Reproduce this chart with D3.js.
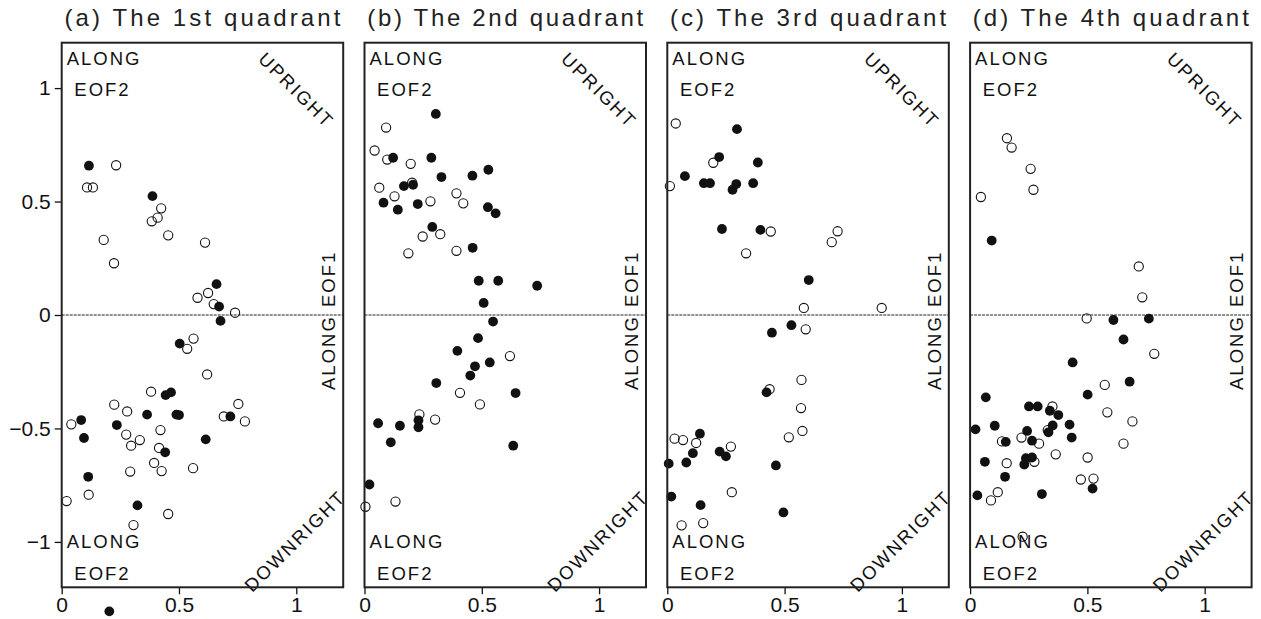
<!DOCTYPE html>
<html>
<head>
<meta charset="utf-8">
<script src="https://cdn.jsdelivr.net/npm/d3@7"></script>
<style>
  body { margin: 0; background: #fff; }
  svg { display: block; }
</style>
</head>
<body>
<svg width="1261" height="619"></svg>
<script>
// panel titles
const titles = ["(a) The 1st quadrant", "(b) The 2nd quadrant", "(c) The 3rd quadrant", "(d) The 4th quadrant"];
const xTicks = [0, 0.5, 1];
const yTicks = [-1, -0.5, 0, 0.5, 1];

// [EOF1, EOF2] pairs
const q1Filled = [
  [0.116, 0.658], [0.387, 0.524], [0.66, 0.136], [0.671, 0.037], [0.677, -0.026],
  [0.503, -0.126], [0.443, -0.353], [0.466, -0.341], [0.364, -0.439], [0.489, -0.439], [0.5, -0.441],
  [0.083, -0.463], [0.719, -0.447], [0.235, -0.485], [0.095, -0.542], [0.614, -0.548], [0.441, -0.605],
  [0.113, -0.713], [0.323, -0.839], [0.203, -1.306]
];
const q1Open = [
  [0.232, 0.66], [0.108, 0.562], [0.133, 0.562], [0.424, 0.47], [0.409, 0.429], [0.384, 0.413], [0.454, 0.351],
  [0.179, 0.331], [0.611, 0.319], [0.223, 0.228], [0.624, 0.097], [0.579, 0.076], [0.648, 0.048], [0.739, 0.01],
  [0.562, -0.104], [0.535, -0.149], [0.62, -0.262], [0.381, -0.338], [0.224, -0.395], [0.279, -0.425],
  [0.753, -0.392], [0.691, -0.447], [0.781, -0.469], [0.041, -0.482], [0.421, -0.507], [0.275, -0.527],
  [0.333, -0.551], [0.296, -0.576], [0.415, -0.586], [0.394, -0.652], [0.426, -0.688], [0.292, -0.69],
  [0.56, -0.675], [0.115, -0.792], [0.021, -0.82], [0.454, -0.877], [0.306, -0.926]
];
const q2Filled = [
  [0.304, 0.886], [0.122, 0.693], [0.285, 0.693], [0.528, 0.64], [0.328, 0.608], [0.46, 0.614], [0.168, 0.568],
  [0.207, 0.574], [0.081, 0.495], [0.227, 0.489], [0.142, 0.464], [0.526, 0.475], [0.559, 0.448], [0.289, 0.388],
  [0.461, 0.296], [0.487, 0.151], [0.57, 0.151], [0.736, 0.129], [0.508, 0.053],
  [0.548, -0.029], [0.484, -0.102], [0.396, -0.158], [0.534, -0.209], [0.471, -0.226], [0.451, -0.267],
  [0.306, -0.3], [0.644, -0.344], [0.058, -0.477], [0.151, -0.488], [0.23, -0.464], [0.23, -0.495],
  [0.112, -0.561], [0.634, -0.576], [0.021, -0.747]
];
const q2Open = [
  [0.092, 0.826], [0.043, 0.725], [0.097, 0.685], [0.197, 0.666], [0.203, 0.583], [0.063, 0.561], [0.128, 0.523],
  [0.281, 0.501], [0.392, 0.536], [0.421, 0.492], [0.248, 0.346], [0.323, 0.356], [0.187, 0.272], [0.392, 0.283],
  [0.62, -0.181], [0.407, -0.343], [0.492, -0.394], [0.234, -0.438], [0.301, -0.461], [0.132, -0.822], [0.004, -0.845]
];
const q3Filled = [
  [0.297, 0.819], [0.221, 0.696], [0.386, 0.672], [0.075, 0.612], [0.156, 0.581], [0.182, 0.581], [0.294, 0.577],
  [0.278, 0.552], [0.366, 0.581], [0.233, 0.379], [0.397, 0.375], [0.603, 0.154],
  [0.529, -0.045], [0.446, -0.078], [0.423, -0.341], [0.139, -0.523], [0.109, -0.609], [0.223, -0.602],
  [0.25, -0.623], [0.006, -0.655], [0.081, -0.65], [0.463, -0.663], [0.017, -0.8], [0.142, -0.838], [0.495, -0.87]
];
const q3Open = [
  [0.036, 0.844], [0.196, 0.671], [0.011, 0.568], [0.441, 0.368], [0.726, 0.369], [0.701, 0.321], [0.336, 0.272],
  [0.582, 0.031], [0.914, 0.031],
  [0.59, -0.063], [0.572, -0.286], [0.436, -0.327], [0.57, -0.41], [0.576, -0.511], [0.518, -0.539],
  [0.031, -0.545], [0.067, -0.551], [0.123, -0.564], [0.271, -0.58], [0.275, -0.781], [0.061, -0.927], [0.153, -0.917]
];
const q4Filled = [
  [0.092, 0.328], [0.611, -0.022], [0.762, -0.016], [0.654, -0.108], [0.437, -0.209], [0.68, -0.294],
  [0.501, -0.351], [0.067, -0.363], [0.251, -0.403], [0.288, -0.403], [0.34, -0.422], [0.376, -0.441],
  [0.023, -0.504], [0.105, -0.488], [0.352, -0.487], [0.424, -0.483], [0.243, -0.511], [0.334, -0.517],
  [0.433, -0.54], [0.152, -0.559], [0.264, -0.554], [0.063, -0.647], [0.238, -0.631], [0.264, -0.628],
  [0.231, -0.659], [0.149, -0.713], [0.522, -0.765], [0.031, -0.795], [0.306, -0.789]
];
const q4Open = [
  [0.157, 0.779], [0.177, 0.738], [0.258, 0.644], [0.27, 0.552], [0.046, 0.52], [0.719, 0.214], [0.734, 0.078],
  [0.497, -0.015], [0.785, -0.171], [0.574, -0.308], [0.585, -0.429], [0.692, -0.469], [0.654, -0.567],
  [0.351, -0.403], [0.331, -0.507], [0.219, -0.54], [0.136, -0.557], [0.294, -0.567], [0.365, -0.614],
  [0.501, -0.628], [0.274, -0.647], [0.156, -0.653], [0.472, -0.725], [0.526, -0.721], [0.118, -0.781],
  [0.089, -0.817], [0.224, -0.977]
];

const filledSets = [q1Filled, q2Filled, q3Filled, q4Filled];
const openSets = [q1Open, q2Open, q3Open, q4Open];

const svg = d3.select("svg"),
  font = "'Liberation Sans', Arial, sans-serif",
  plotTop = 42.7,
  plotBottom = 587.3,
  panelW = 281.5,
  step = 302.8;

const y = d3.scaleLinear().domain([-1.2, 1.2]).range([plotBottom, plotTop]);

titles.forEach((title, i) => {
  const left = 61.7 + i * step;
  const x = d3.scaleLinear().domain([0, 1.2]).range([left, left + panelW]);
  const g = svg.append("g");

  //title
  g.append("text")
    .attr("x", left + panelW / 2)
    .attr("y", 26)
    .attr("text-anchor", "middle")
    .attr("font-family", font)
    .attr("font-size", 24)
    .attr("textLength", 276)
    .attr("lengthAdjust", "spacing")
    .attr("fill", "#222")
    .text(title);

  //x axis
  const xa = g.append("g")
    .attr("transform", `translate(0,${plotBottom})`)
    .call(d3.axisBottom(x).tickValues(xTicks).tickSize(7).tickPadding(3).tickFormat(d3.format("")));
  xa.select(".domain").remove();
  xa.selectAll("line").attr("stroke", "#111").attr("stroke-width", 1.3);
  xa.selectAll("text").attr("font-family", font).attr("font-size", 21).attr("fill", "#111");

  if (i === 0) {
    const ya = g.append("g")
      .attr("transform", `translate(${left},0)`)
      .call(d3.axisLeft(y).tickValues(yTicks).tickSize(7).tickPadding(4).tickFormat(d3.format("")));
    ya.select(".domain").remove();
    ya.selectAll("line").attr("stroke", "#111").attr("stroke-width", 1.3);
    ya.selectAll("text").attr("font-family", font).attr("font-size", 21).attr("fill", "#111");
  }

  //zero line
  g.append("line")
    .attr("x1", left).attr("x2", left + panelW)
    .attr("y1", y(0)).attr("y2", y(0))
    .attr("stroke", "#222")
    .attr("stroke-width", 1)
    .attr("stroke-dasharray", "3,1");

  //labels inside the frame
  const lab = (txt, tx, ty, rot, anchor) =>
    g.append("text")
      .attr("transform", `translate(${tx},${ty}) rotate(${rot})`)
      .attr("text-anchor", anchor || "start")
      .attr("font-family", font)
      .attr("font-size", 18.5)
      .attr("letter-spacing", 2)
      .attr("fill", "#111")
      .text(txt);
  lab("ALONG", left + 5, plotTop + 22.3, 0);
  lab("EOF2", left + 12.6, plotTop + 53, 0);
  lab("ALONG", left + 5, plotBottom - 39, 0);
  lab("EOF2", left + 12.6, plotBottom - 7.3, 0);
  lab("UPRIGHT", left + panelW - 51.5, plotTop + 52, 45, "middle");
  lab("DOWNRIGHT", left + panelW - 43.6, plotBottom - 41.6, -45, "middle");
  lab("EOF1", left + panelW - 8.3, y(0) - 8, -90);
  lab("ALONG", left + panelW - 8.3, y(0) + 75, -90);

  //points
  g.append("g")
    .selectAll("circle")
    .data(openSets[i])
    .join("circle")
    .attr("cx", (d) => x(d[0]))
    .attr("cy", (d) => y(d[1]))
    .attr("r", 4.6)
    .attr("fill", "none")
    .attr("stroke", "#111")
    .attr("stroke-width", 1.1);
  g.append("g")
    .selectAll("circle")
    .data(filledSets[i])
    .join("circle")
    .attr("cx", (d) => x(d[0]))
    .attr("cy", (d) => y(d[1]))
    .attr("r", 4.9)
    .attr("fill", "#111");

  //frame
  g.append("rect")
    .attr("x", left).attr("y", plotTop)
    .attr("width", panelW).attr("height", plotBottom - plotTop)
    .attr("fill", "none")
    .attr("stroke", "#222")
    .attr("stroke-width", 2);
});
</script>
</body>
</html>
